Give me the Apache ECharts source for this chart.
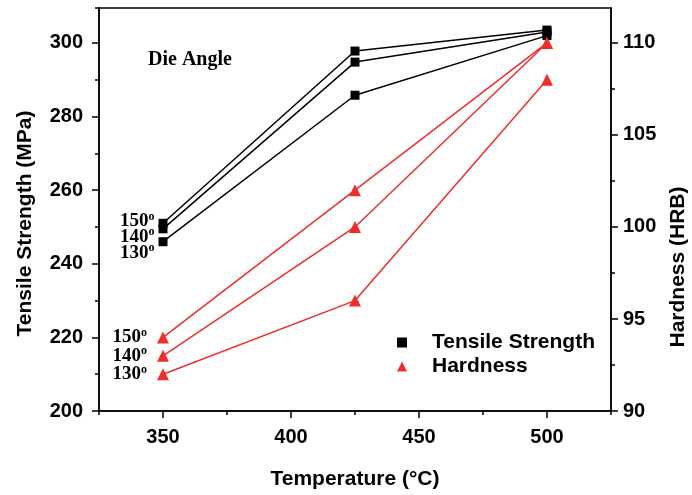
<!DOCTYPE html>
<html><head><meta charset="utf-8">
<script src="https://cdn.jsdelivr.net/npm/echarts@6/dist/echarts.min.js"></script>
<style>html,body{margin:0;padding:0;background:#fff}#c{width:692px;height:495px}</style>
</head><body><div id="c"></div>
<script>
const temperatures = [350, 425, 500];
const tensile150 = [251, 297.8, 303.5];
const tensile140 = [249.5, 294.8, 303];
const tensile130 = [246, 285.8, 302];
const hardness150 = [94, 102, 110];
const hardness140 = [93, 100, 110];
const hardness130 = [92, 96, 108];
const xTicks = [350, 400, 450, 500];
const xMinorTicks = [325, 375, 425, 475, 525];
const leftTicks = [200, 220, 240, 260, 280, 300];
const leftMinorTicks = [210, 230, 250, 270, 290, 309.5];
const rightTicks = [90, 95, 100, 105, 110];
const rightMinorTicks = [92.5, 97.5, 102.5, 107.5];

const SANS = '"Liberation Sans", Arial, sans-serif';
const SERIF = '"Liberation Serif", "Times New Roman", serif';
const BLACK = '#000000';
const RED = '#ef2d2d';

function mk(name, vals, angle, yIdx, color, symbol, size, labelOffset, labelDist) {
  return {
    type: 'line', name: name, xAxisIndex: 0, yAxisIndex: yIdx,
    symbol: symbol, symbolSize: size,
    lineStyle: { color: color, width: 1.5 },
    itemStyle: { color: color },
    animation: false,
    label: { show: false },
    data: vals.map(function (v, i) {
      const d = { value: [temperatures[i], v] };
      if (i === 0) {
        d.label = {
          show: true, position: 'left', distance: labelDist, offset: labelOffset,
          color: BLACK,
          formatter: '{n|' + angle + '}{s|o}',
          rich: {
            n: { fontFamily: SERIF, fontWeight: 'bold', fontSize: 19, color: BLACK },
            s: { fontFamily: SERIF, fontWeight: 'bold', fontSize: 12, color: BLACK, padding: [0, 0, 9, 0] }
          }
        };
      }
      return d;
    })
  };
}

const axisLbl = { fontFamily: SANS, fontWeight: 'bold', fontSize: 20, color: BLACK };
const nameStyle = { fontFamily: SANS, fontWeight: 'bold', fontSize: 21, color: BLACK };
const lineSt = { lineStyle: { color: BLACK, width: 1.5 } };

const chart = echarts.init(document.getElementById('c'), null, { renderer: 'canvas' });
chart.setOption({
  animation: false,
  backgroundColor: '#ffffff',
  grid: { left: 99, right: 81, top: 8, bottom: 84, outerBoundsMode: 'none', containLabel: false, show: true, borderColor: BLACK, borderWidth: 1.5, backgroundColor: 'transparent' },
  legend: {
    orient: 'vertical', left: 397, top: 332, padding: 0,
    itemWidth: 10, itemHeight: 10, itemGap: 3,
    textStyle: { fontFamily: SANS, fontWeight: 'bold', fontSize: 21, color: BLACK, padding: [0, 0, 0, 20], lineHeight: 21 },
    data: [
      { name: 'Tensile Strength', icon: 'rect', itemStyle: { color: BLACK } },
      { name: 'Hardness', icon: 'triangle', itemStyle: { color: RED } }
    ]
  },
  graphic: [{
    type: 'text', left: 148, top: 50,
    style: { text: 'Die Angle', font: 'bold 20px ' + SERIF, fill: BLACK }
  }],
  xAxis: [{
    type: 'value', min: 325, max: 525, position: 'bottom',
    name: 'Temperature (°C)', nameLocation: 'middle', nameGap: 58, nameTextStyle: nameStyle,
    axisLine: Object.assign({ show: true, onZero: false }, lineSt),
    axisTick: { show: true, length: 7, customValues: xTicks, lineStyle: { color: BLACK, width: 1.5 } },
    axisLabel: Object.assign({ margin: 16, customValues: xTicks }, axisLbl),
    splitLine: { show: false }
  }, {
    type: 'value', min: 325, max: 525, position: 'bottom',
    axisLine: { show: false },
    axisTick: { show: true, length: 4, customValues: xMinorTicks, lineStyle: { color: BLACK, width: 1.5 } },
    axisLabel: { show: false },
    splitLine: { show: false }
  }],
  yAxis: [{
    type: 'value', min: 200, max: 309.5, position: 'left',
    name: 'Tensile Strength (MPa)', nameLocation: 'middle', nameGap: 63, nameRotate: 90,
    nameTextStyle: Object.assign({ padding: [0, 28, 0, 0] }, nameStyle),
    axisLine: Object.assign({ show: true, onZero: false }, lineSt),
    axisTick: { show: true, length: 7, customValues: leftTicks, lineStyle: { color: BLACK, width: 1.5 } },
    axisLabel: Object.assign({ margin: 16, customValues: leftTicks }, axisLbl),
    splitLine: { show: false }
  }, {
    type: 'value', min: 90, max: 111.9, position: 'right',
    name: 'Hardness (HRB)', nameLocation: 'middle', nameGap: 57, nameRotate: 90,
    nameTextStyle: Object.assign({ padding: [0, 115, 0, 0] }, nameStyle),
    axisLine: Object.assign({ show: true, onZero: false }, lineSt),
    axisTick: { show: true, length: 7, customValues: rightTicks, lineStyle: { color: BLACK, width: 1.5 } },
    axisLabel: Object.assign({ margin: 12, customValues: rightTicks }, axisLbl),
    splitLine: { show: false }
  }, {
    type: 'value', min: 200, max: 309.5, position: 'left',
    axisLine: { show: false },
    axisTick: { show: true, length: 4, customValues: leftMinorTicks, lineStyle: { color: BLACK, width: 1.5 } },
    axisLabel: { show: false }, splitLine: { show: false }
  }, {
    type: 'value', min: 90, max: 111.9, position: 'right',
    axisLine: { show: false },
    axisTick: { show: true, length: 4, customValues: rightMinorTicks, lineStyle: { color: BLACK, width: 1.5 } },
    axisLabel: { show: false }, splitLine: { show: false }
  }],
  series: [
    mk('Tensile Strength', tensile150, '150', 0, BLACK, 'rect', 9, [0, -2], 4),
    mk('Tensile Strength', tensile140, '140', 0, BLACK, 'rect', 9, [0, 8], 4),
    mk('Tensile Strength', tensile130, '130', 0, BLACK, 'rect', 9, [0, 11], 4),
    mk('Hardness', hardness150, '150', 1, RED, 'triangle', 12, [0, 0], 10),
    mk('Hardness', hardness140, '140', 1, RED, 'triangle', 12, [0, 0], 10),
    mk('Hardness', hardness130, '130', 1, RED, 'triangle', 12, [0, 0], 10)
  ]
});
</script>
</body></html>
